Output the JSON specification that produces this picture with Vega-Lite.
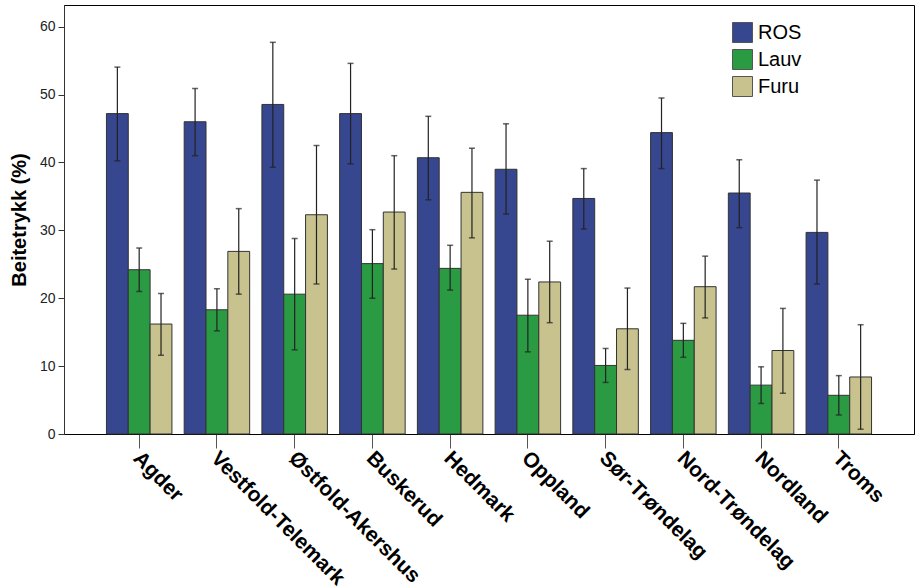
{
  "$schema": "https://vega.github.io/schema/vega-lite/v6.json",
  "width": 850,
  "height": 429,
  "autosize": {"type": "none"},
  "padding": {"left": 64, "top": 5, "right": 7, "bottom": 153},
  "background": "white",
  "config": {
    "font": "Liberation Sans",
    "view": {"stroke": "black", "strokeWidth": 1}
  },
  "data": {
    "values": [
      {"region": "Agder", "type": "ROS", "value": 47.2, "lo": 40.25, "hi": 54.05},
      {"region": "Agder", "type": "Lauv", "value": 24.2, "lo": 21.0, "hi": 27.4},
      {"region": "Agder", "type": "Furu", "value": 16.2, "lo": 11.6, "hi": 20.7},
      {"region": "Vestfold-Telemark", "type": "ROS", "value": 46.0, "lo": 41.0, "hi": 50.9},
      {"region": "Vestfold-Telemark", "type": "Lauv", "value": 18.3, "lo": 15.2, "hi": 21.4},
      {"region": "Vestfold-Telemark", "type": "Furu", "value": 26.9, "lo": 20.6, "hi": 33.2},
      {"region": "Østfold-Akershus", "type": "ROS", "value": 48.55, "lo": 39.3, "hi": 57.7},
      {"region": "Østfold-Akershus", "type": "Lauv", "value": 20.6, "lo": 12.4, "hi": 28.8},
      {"region": "Østfold-Akershus", "type": "Furu", "value": 32.3, "lo": 22.1, "hi": 42.5},
      {"region": "Buskerud", "type": "ROS", "value": 47.2, "lo": 39.8, "hi": 54.6},
      {"region": "Buskerud", "type": "Lauv", "value": 25.1, "lo": 20.0, "hi": 30.1},
      {"region": "Buskerud", "type": "Furu", "value": 32.7, "lo": 24.3, "hi": 41.0},
      {"region": "Hedmark", "type": "ROS", "value": 40.7, "lo": 34.5, "hi": 46.8},
      {"region": "Hedmark", "type": "Lauv", "value": 24.4, "lo": 21.2, "hi": 27.8},
      {"region": "Hedmark", "type": "Furu", "value": 35.6, "lo": 28.9, "hi": 42.1},
      {"region": "Oppland", "type": "ROS", "value": 39.0, "lo": 32.4, "hi": 45.7},
      {"region": "Oppland", "type": "Lauv", "value": 17.5, "lo": 12.1, "hi": 22.8},
      {"region": "Oppland", "type": "Furu", "value": 22.4, "lo": 16.4, "hi": 28.4},
      {"region": "Sør-Trøndelag", "type": "ROS", "value": 34.7, "lo": 30.2, "hi": 39.1},
      {"region": "Sør-Trøndelag", "type": "Lauv", "value": 10.1, "lo": 7.6, "hi": 12.6},
      {"region": "Sør-Trøndelag", "type": "Furu", "value": 15.5, "lo": 9.5, "hi": 21.5},
      {"region": "Nord-Trøndelag", "type": "ROS", "value": 44.4, "lo": 39.1, "hi": 49.5},
      {"region": "Nord-Trøndelag", "type": "Lauv", "value": 13.8, "lo": 11.3, "hi": 16.3},
      {"region": "Nord-Trøndelag", "type": "Furu", "value": 21.7, "lo": 17.1, "hi": 26.2},
      {"region": "Nordland", "type": "ROS", "value": 35.5, "lo": 30.4, "hi": 40.4},
      {"region": "Nordland", "type": "Lauv", "value": 7.2, "lo": 4.5, "hi": 9.9},
      {"region": "Nordland", "type": "Furu", "value": 12.3, "lo": 6.0, "hi": 18.5},
      {"region": "Troms", "type": "ROS", "value": 29.7, "lo": 22.1, "hi": 37.4},
      {"region": "Troms", "type": "Lauv", "value": 5.7, "lo": 2.8, "hi": 8.6},
      {"region": "Troms", "type": "Furu", "value": 8.4, "lo": 0.7, "hi": 16.1}
    ]
  },
  "encoding": {
    "x": {
      "field": "region",
      "type": "nominal",
      "sort": ["Agder", "Vestfold-Telemark", "Østfold-Akershus", "Buskerud", "Hedmark", "Oppland", "Sør-Trøndelag", "Nord-Trøndelag", "Nordland", "Troms"],
      "scale": {"paddingInner": 0.1575, "paddingOuter": 0.546},
      "axis": {
        "title": null,
        "labelAngle": 45,
        "labelAlign": "left",
        "labelBaseline": "top",
        "labelFont": "Liberation Sans",
        "labelFontSize": 21,
        "labelFontWeight": "bold",
        "labelColor": "black",
        "labelPadding": -1,
        "labelOffset": 5,
        "tickSize": 14,
        "tickColor": "#555",
        "domainColor": "black",
        "labelOverlap": false
      }
    },
    "xOffset": {
      "field": "type",
      "type": "nominal",
      "scale": {"domain": ["ROS", "Lauv", "Furu"], "paddingInner": 0, "paddingOuter": 0}
    }
  },
  "layer": [
    {
      "mark": {"type": "bar", "stroke": "#333", "strokeWidth": 1},
      "encoding": {
        "y": {
          "field": "value",
          "type": "quantitative",
          "scale": {"domain": [0, 63.2], "nice": false},
          "axis": {
            "title": "Beitetrykk (%)",
            "titleFont": "Liberation Sans",
            "titleFontSize": 20,
            "titleFontWeight": "bold",
            "titleColor": "black",
            "titlePadding": 10,
            "values": [0, 10, 20, 30, 40, 50, 60],
            "labelFontSize": 14,
            "labelColor": "#222",
            "labelPadding": 3,
            "tickSize": 6,
            "tickColor": "#333",
            "domainColor": "#333",
            "grid": false
          }
        },
        "color": {
          "field": "type",
          "type": "nominal",
          "scale": {"domain": ["ROS", "Lauv", "Furu"], "range": ["#36468f", "#2a9a43", "#c8c28e"]},
          "legend": {
            "title": null,
            "orient": "none",
            "legendX": 668,
            "legendY": 17,
            "symbolType": "square",
            "symbolSize": 400,
            "symbolStrokeColor": "#555",
            "symbolStrokeWidth": 1,
            "labelFontSize": 20,
            "labelColor": "black",
            "labelOffset": 5,
            "rowPadding": 2
          }
        }
      }
    },
    {
      "mark": {"type": "rule", "color": "#222", "strokeWidth": 1.2},
      "encoding": {
        "y": {"field": "lo", "type": "quantitative"},
        "y2": {"field": "hi"}
      }
    },
    {
      "mark": {"type": "tick", "size": 6, "thickness": 1.5, "color": "#222"},
      "encoding": {"y": {"field": "lo", "type": "quantitative"}}
    },
    {
      "mark": {"type": "tick", "size": 6, "thickness": 1.5, "color": "#222"},
      "encoding": {"y": {"field": "hi", "type": "quantitative"}}
    }
  ]
}
